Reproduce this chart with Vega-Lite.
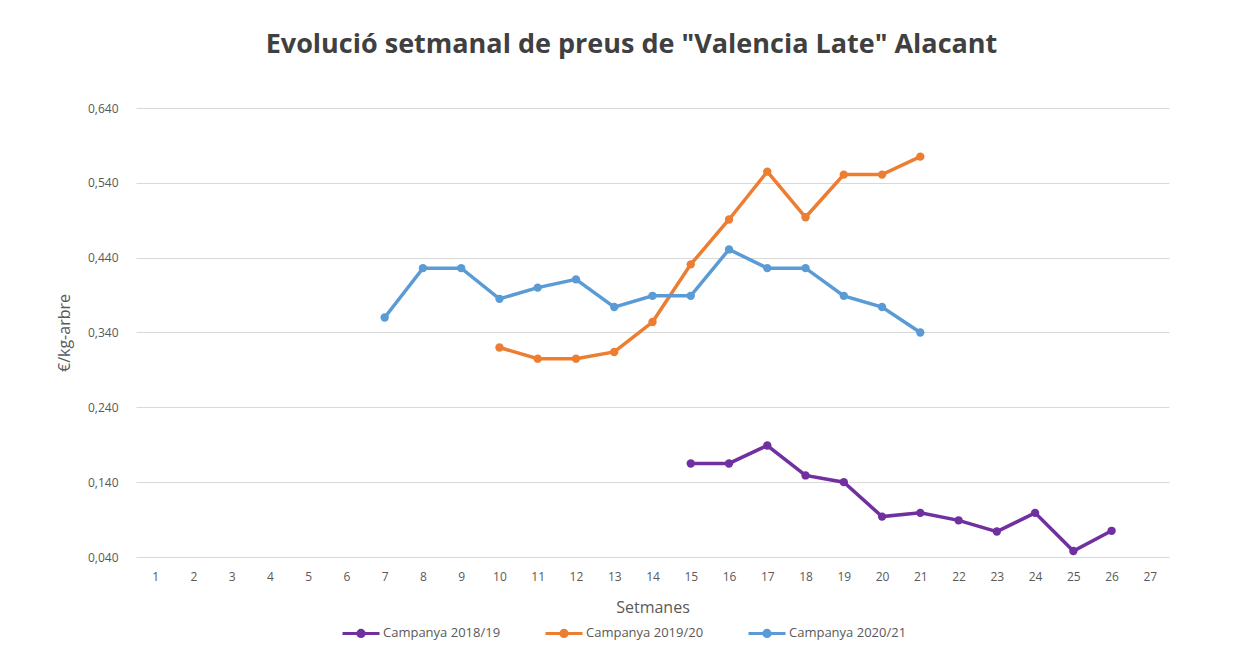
{
  "$schema": "https://vega.github.io/schema/vega-lite/v6.json",
  "width": 1033,
  "height": 449,
  "autosize": {"type": "none"},
  "padding": {"left": 136, "top": 108, "right": 86, "bottom": 100},
  "background": "white",
  "title": {
    "text": "Evolució setmanal de preus de \"Valencia Late\" Alacant",
    "font": "Open Sans",
    "fontSize": 27,
    "fontWeight": "bold",
    "color": "#404040",
    "anchor": "middle",
    "dx": -21,
    "baseline": "alphabetic",
    "offset": 22
  },
  "config": {
    "view": {"stroke": null},
    "font": "Open Sans",
    "axis": {"labelFont": "Open Sans", "titleFont": "Open Sans", "labelColor": "#595959", "titleColor": "#595959"}
  },
  "data": {
    "values": [
      {"setmana": 15, "preu": 0.165, "campanya": "Campanya 2018/19"},
      {"setmana": 16, "preu": 0.165, "campanya": "Campanya 2018/19"},
      {"setmana": 17, "preu": 0.189, "campanya": "Campanya 2018/19"},
      {"setmana": 18, "preu": 0.149, "campanya": "Campanya 2018/19"},
      {"setmana": 19, "preu": 0.140, "campanya": "Campanya 2018/19"},
      {"setmana": 20, "preu": 0.094, "campanya": "Campanya 2018/19"},
      {"setmana": 21, "preu": 0.099, "campanya": "Campanya 2018/19"},
      {"setmana": 22, "preu": 0.089, "campanya": "Campanya 2018/19"},
      {"setmana": 23, "preu": 0.074, "campanya": "Campanya 2018/19"},
      {"setmana": 24, "preu": 0.099, "campanya": "Campanya 2018/19"},
      {"setmana": 25, "preu": 0.048, "campanya": "Campanya 2018/19"},
      {"setmana": 26, "preu": 0.075, "campanya": "Campanya 2018/19"},
      {"setmana": 10, "preu": 0.320, "campanya": "Campanya 2019/20"},
      {"setmana": 11, "preu": 0.305, "campanya": "Campanya 2019/20"},
      {"setmana": 12, "preu": 0.305, "campanya": "Campanya 2019/20"},
      {"setmana": 13, "preu": 0.314, "campanya": "Campanya 2019/20"},
      {"setmana": 14, "preu": 0.354, "campanya": "Campanya 2019/20"},
      {"setmana": 15, "preu": 0.431, "campanya": "Campanya 2019/20"},
      {"setmana": 16, "preu": 0.491, "campanya": "Campanya 2019/20"},
      {"setmana": 17, "preu": 0.555, "campanya": "Campanya 2019/20"},
      {"setmana": 18, "preu": 0.494, "campanya": "Campanya 2019/20"},
      {"setmana": 19, "preu": 0.551, "campanya": "Campanya 2019/20"},
      {"setmana": 20, "preu": 0.551, "campanya": "Campanya 2019/20"},
      {"setmana": 21, "preu": 0.575, "campanya": "Campanya 2019/20"},
      {"setmana": 7, "preu": 0.360, "campanya": "Campanya 2020/21"},
      {"setmana": 8, "preu": 0.426, "campanya": "Campanya 2020/21"},
      {"setmana": 9, "preu": 0.426, "campanya": "Campanya 2020/21"},
      {"setmana": 10, "preu": 0.385, "campanya": "Campanya 2020/21"},
      {"setmana": 11, "preu": 0.400, "campanya": "Campanya 2020/21"},
      {"setmana": 12, "preu": 0.411, "campanya": "Campanya 2020/21"},
      {"setmana": 13, "preu": 0.374, "campanya": "Campanya 2020/21"},
      {"setmana": 14, "preu": 0.389, "campanya": "Campanya 2020/21"},
      {"setmana": 15, "preu": 0.389, "campanya": "Campanya 2020/21"},
      {"setmana": 16, "preu": 0.451, "campanya": "Campanya 2020/21"},
      {"setmana": 17, "preu": 0.426, "campanya": "Campanya 2020/21"},
      {"setmana": 18, "preu": 0.426, "campanya": "Campanya 2020/21"},
      {"setmana": 19, "preu": 0.389, "campanya": "Campanya 2020/21"},
      {"setmana": 20, "preu": 0.374, "campanya": "Campanya 2020/21"},
      {"setmana": 21, "preu": 0.340, "campanya": "Campanya 2020/21"}
    ]
  },
  "mark": {"type": "line", "strokeWidth": 3.5, "point": {"size": 70, "filled": true, "opacity": 1}},
  "encoding": {
    "x": {
      "field": "setmana",
      "type": "ordinal",
      "scale": {"type": "point", "padding": 0.5, "domain": [1,2,3,4,5,6,7,8,9,10,11,12,13,14,15,16,17,18,19,20,21,22,23,24,25,26,27]},
      "axis": {
        "title": "Setmanes",
        "titleFontSize": 16,
        "titleFontWeight": "normal",
        "titlePadding": 17,
        "labelAngle": 0,
        "labelFontSize": 12,
        "labelPadding": 14,
        "ticks": false,
        "domain": false,
        "grid": false
      }
    },
    "y": {
      "field": "preu",
      "type": "quantitative",
      "scale": {"domain": [0.04, 0.64], "nice": false, "zero": false},
      "axis": {
        "title": "€/kg-arbre",
        "titleFontSize": 16,
        "titleFontWeight": "normal",
        "titlePadding": 15,
        "values": [0.04, 0.14, 0.24, 0.34, 0.44, 0.54, 0.64],
        "labelExpr": "replace(format(datum.value, '.3f'), '.', ',')",
        "labelFontSize": 12,
        "labelPadding": 18,
        "ticks": false,
        "domain": false,
        "grid": true,
        "gridColor": "#d9d9d9",
        "gridWidth": 1
      }
    },
    "color": {
      "field": "campanya",
      "type": "nominal",
      "scale": {
        "domain": ["Campanya 2018/19", "Campanya 2019/20", "Campanya 2020/21"],
        "range": ["#7030A0", "#ED7D31", "#5B9BD5"]
      },
      "legend": {
        "title": null,
        "orient": "none",
        "direction": "horizontal",
        "legendX": 205,
        "legendY": 505,
        "labelFontSize": 13,
        "labelColor": "#595959",
        "labelFont": "Open Sans",
        "labelOffset": 2,
        "columnPadding": 38,
        "symbolType": "M-1,0H1M-0.17,0A0.17,0.17 0 1,1 0.17,0A0.17,0.17 0 1,1 -0.17,0Z",
        "symbolSize": 1369,
        "symbolStrokeWidth": 3,
        "encode": {"symbols": {"update": {"fill": {"scale": "color", "field": "value"}}}}
      }
    }
  }
}
